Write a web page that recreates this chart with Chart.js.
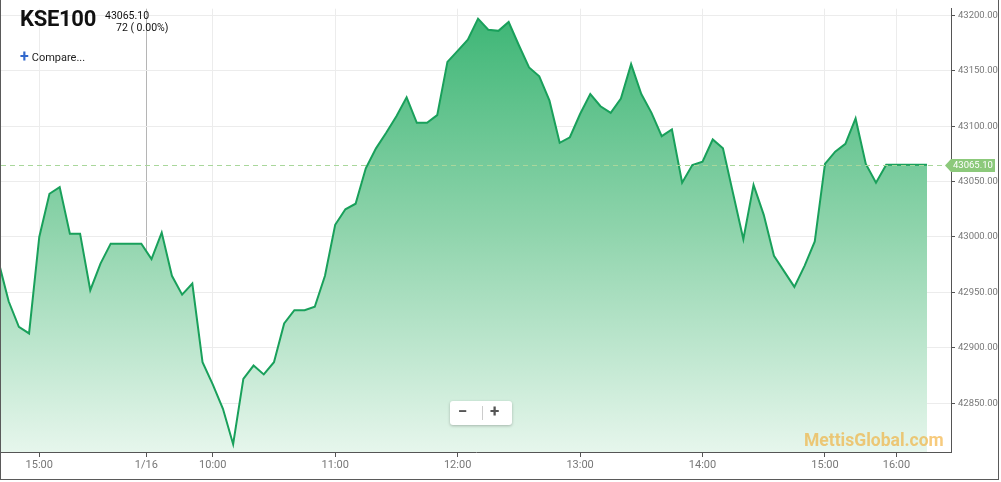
<!DOCTYPE html>
<html>
<head>
<meta charset="utf-8">
<script src="https://cdn.jsdelivr.net/npm/chart.js@4.4.0/dist/chart.umd.min.js"></script>
<style>
  html, body { margin: 0; padding: 0; background: #fff; }
  #frame {
    position: absolute; left: 0; top: 0;
    width: 999px; height: 480px; box-sizing: border-box;
    border: 1px solid #5a5a5a; border-top: none;
    font-family: Roboto, "Noto Sans", sans-serif;
    overflow: hidden;
  }
  #chart { position: absolute; left: 0; top: 0; }
  .title { position: absolute; left: 19px; top: 6px; font-size: 22px; font-weight: bold; color: #111; letter-spacing: -0.3px; }
  .last { position: absolute; left: 104px; top: 9px; font-size: 10.5px; color: #111; }
  .chg { position: absolute; left: 115px; top: 21px; font-size: 10.5px; color: #111; }
  .compare { position: absolute; left: 19px; top: 46px; font-size: 11px; color: #222; }
  .compare b { color: #3268cc; font-size: 16px; margin-right: 3px; position: relative; top: 1px; }
  .zoom {
    position: absolute; left: 449px; top: 401px; width: 62px; height: 24px;
    background: #fff; border-radius: 3px; box-shadow: 0 1px 3px rgba(0,0,0,0.25);
    color: #555; font-weight: bold; font-size: 17px; line-height: 23px;
  }
  .zoom .m { position: absolute; left: 8px; top: -1px; }
  .zoom .p { position: absolute; left: 40px; top: -1px; }
  .zoom .sep { position: absolute; left: 32px; top: 5px; width: 1px; height: 14px; background: #ccc; }
  .mark {
    position: absolute; left: 803px; top: 430px; font-size: 17.5px; font-weight: bold;
    color: rgba(242, 168, 40, 0.6);
  }
</style>
</head>
<body>
<div id="frame">
  <canvas id="chart" width="997" height="479"></canvas>
  <div class="title">KSE100</div>
  <div class="last">43065.10</div>
  <div class="chg">72 ( 0.00%)</div>
  <div class="compare"><b>+</b>Compare...</div>
  <div class="zoom"><span class="m">&#8722;</span><span class="sep"></span><span class="p">+</span></div>
  <div class="mark">MettisGlobal.com</div>
</div>
<script>
// index values, 5 minute bars (prev day 14:40-15:30, then 1/16 9:30-16:15)
var values = [
  42978, 42942, 42919, 42913, 43000, 43039, 43045, 43003, 43003, 42952,
  42976, 42994, 42994, 42994, 42994, 42980, 43004, 42965, 42948, 42958,
  42887, 42867, 42845, 42813, 42872, 42884, 42876, 42887, 42922, 42934,
  42934, 42937, 42965, 43011, 43025, 43030, 43062, 43080, 43094, 43109,
  43126, 43103, 43103, 43110, 43158, 43168, 43178, 43197, 43187, 43186,
  43194, 43173, 43153, 43145, 43123, 43085, 43090, 43111, 43129, 43118,
  43112, 43125, 43156, 43129, 43112, 43091, 43097, 43049, 43065, 43068,
  43088, 43080, 43039, 42998, 43047, 43020, 42983, 42969, 42955, 42974,
  42996, 43066, 43077, 43084, 43107, 43066, 43049, 43065.1, 43065.1, 43065.1,
  43065.1, 43065.1
];
var lastPrice = 43065.10;

// x ticks (bar positions) and their labels
var tickPos = [4, 14.5, 21, 33, 45, 57, 69, 81, 88];
var tickLabels = ['15:00', '1/16', '10:00', '11:00', '12:00', '13:00', '14:00', '15:00', '16:00'];

// y ticks
var yTicks = [42850, 42900, 42950, 43000, 43050, 43100, 43150, 43200];

var points = values.map(function (v, i) { return { x: i, y: v }; });

// dashed last price line + tag on the axis
var lastLine = {
  id: 'lastLine',
  afterDatasetsDraw: function (chart) {
    var ctx = chart.ctx, area = chart.chartArea;
    var y = Math.round(chart.scales.y.getPixelForValue(lastPrice)) + 0.5;
    ctx.save();
    ctx.strokeStyle = '#a9d79b';
    ctx.lineWidth = 1;
    ctx.setLineDash([5, 4]);
    ctx.beginPath();
    ctx.moveTo(area.left, y);
    ctx.lineTo(area.right - 8, y);
    ctx.stroke();
    ctx.setLineDash([]);

    var x0 = area.right - 6;
    ctx.fillStyle = '#8cc97b';
    ctx.beginPath();
    ctx.moveTo(x0, y);
    ctx.lineTo(x0 + 6, y - 6.5);
    ctx.lineTo(x0 + 50, y - 6.5);
    ctx.lineTo(x0 + 50, y + 6.5);
    ctx.lineTo(x0 + 6, y + 6.5);
    ctx.closePath();
    ctx.fill();
    ctx.fillStyle = '#fff';
    ctx.font = '9.5px Roboto';
    ctx.textAlign = 'left';
    ctx.textBaseline = 'middle';
    ctx.fillText(lastPrice.toFixed(2), x0 + 8, y + 0.5);
    ctx.restore();
  }
};

var ctx = document.getElementById('chart');

var chart = new Chart(ctx, {
  type: 'line',
  data: {
    datasets: [{
      data: points,
      borderColor: '#19a05b',
      borderWidth: 2,
      pointRadius: 0,
      tension: 0,
      fill: 'start',
      backgroundColor: function (c) {
        var area = c.chart.chartArea;
        if (!area) return 'rgba(60,180,115,0.6)';
        var g = c.chart.ctx.createLinearGradient(0, area.top, 0, area.bottom);
        g.addColorStop(0, '#3bb574');
        g.addColorStop(0.5, '#8fd4ac');
        g.addColorStop(1, '#e6f6ec');
        return g;
      }
    }]
  },
  options: {
    responsive: false,
    animation: false,
    devicePixelRatio: 1,
    layout: { padding: 0 },
    plugins: { legend: { display: false }, tooltip: { enabled: false } },
    scales: {
      x: {
        type: 'linear',
        min: 0.25,
        max: 93.35,
        afterBuildTicks: function (s) { s.ticks = tickPos.map(function (v) { return { value: v }; }); },
        afterFit: function (s) { s.height = 27; },
        grid: {
          color: function (c) { return c.tick && c.tick.value === 14.5 ? '#b5b5b5' : '#ececec'; },
          tickColor: '#555',
          tickLength: 5
        },
        border: { color: '#555' },
        ticks: {
          autoSkip: false,
          maxRotation: 0,
          padding: 2,
          color: '#777',
          font: { family: 'Roboto', size: 11 },
          callback: function (v, i) { return tickLabels[i]; }
        }
      },
      y: {
        position: 'right',
        min: 42806,
        max: 43206,
        afterBuildTicks: function (s) { s.ticks = yTicks.map(function (v) { return { value: v }; }); },
        afterFit: function (s) { s.width = 47; },
        grid: { color: '#ececec', tickColor: '#555', tickLength: 4 },
        border: { color: '#555' },
        ticks: {
          padding: 3,
          color: '#777',
          font: { family: 'Roboto', size: 9.5 },
          callback: function (v) { return v.toFixed(2); }
        }
      }
    }
  },
  plugins: [lastLine]
});
</script>
</body>
</html>
